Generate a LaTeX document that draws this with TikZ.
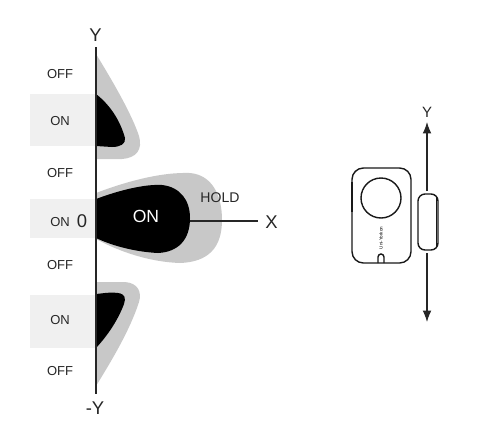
\documentclass[tikz,border=0pt]{standalone}
\usepackage{fontspec}
\setmainfont{Liberation Sans}
\usetikzlibrary{arrows.meta}
\definecolor{band}{HTML}{F0F0F0}
\definecolor{lobe}{HTML}{C8C8C8}
\tikzset{
  x=0.02cm,y=-0.02cm,
  lbl/.style={font=\fontsize{7.4}{9}\selectfont,text=black!85,inner sep=0pt},
  axl/.style={font=\fontsize{10.5}{12}\selectfont,text=black!85,inner sep=0pt},
  bandbox/.style={fill=band,draw=none},
  graylobe/.style={fill=lobe,draw=none},
  blacklobe/.style={fill=black,draw=none},
  ax/.style={draw=black!85,line width=0.8pt},
  dev/.style={draw=black!90,line width=0.8pt},
  arr/.style={draw=black!85,line width=0.6pt,-{Latex[length=6.5pt,width=5pt]}}
}
\begin{document}
\begin{tikzpicture}
\useasboundingbox (0,0) rectangle (483,420);
% bands
\fill[bandbox] (30,94) rectangle (95,146);
\fill[bandbox] (30,199) rectangle (95,238);
\fill[bandbox] (30,295) rectangle (95,348);
% top lobe
\path[graylobe] (96,54) .. controls (115,85) and (132,115) .. (139,136) .. controls (143,150) and (136,158) .. (122,159) -- (96,159) -- cycle;
\path[blacklobe] (96,94) .. controls (110,105) and (120,120) .. (125,138) .. controls (126,144) and (120,147) .. (112,147) -- (96,146) -- cycle;
% middle lobe
\path[graylobe] (96,193) .. controls (125,182) and (160,172) .. (190,173) .. controls (212,175) and (222,195) .. (222,220) .. controls (222,248) and (208,262) .. (180,263) .. controls (150,262) and (120,252) .. (96,239) -- cycle;
\path[blacklobe] (96,199) .. controls (120,190) and (145,184) .. (162,185) .. controls (180,187) and (190,200) .. (190,218) .. controls (190,240) and (178,252) .. (158,253) .. controls (138,252) and (115,247) .. (96,238) -- cycle;
% bottom lobe
\path[graylobe] (96,282) -- (125,282) .. controls (138,283) and (142,292) .. (139,302) .. controls (130,330) and (112,360) .. (96,386) -- cycle;
\path[blacklobe] (96,294) .. controls (105,293) and (112,292) .. (118,293) .. controls (125,294) and (126,298) .. (124,304) .. controls (118,320) and (108,335) .. (96,348) -- cycle;
% axes
\coordinate (ytop) at (96,47);
\coordinate (ybot) at (96,394);
\coordinate (xa) at (190,221);
\coordinate (xb) at (258,221);
\draw[ax] (ytop) -- (ybot);
\draw[ax] (xa) -- (xb);
% labels
\node[axl] (ly) at (95.5,35) {Y};
\node[axl] (lmy) at (95,408) {-Y};
\node[axl] (lx) at (271.5,222) {X};
\node[axl] (l0) at (82,221) {0};
\node[lbl] (o1) at (60,74) {OFF};
\node[lbl] (n1) at (60,121.5) {ON};
\node[lbl] (o2) at (60,173) {OFF};
\node[lbl] (n2) at (60,222) {ON};
\node[lbl] (o3) at (60,265) {OFF};
\node[lbl] (n3) at (60,320.5) {ON};
\node[lbl] (o4) at (60,371.5) {OFF};
\node[lbl,font=\fontsize{8}{10}\selectfont] (hold) at (220,197.5) {HOLD};
\node[lbl,text=white,font=\fontsize{10}{12}\selectfont] (onw) at (146,216.5) {ON};
% device
\node[axl,font=\fontsize{8.5}{10}\selectfont] (dy) at (427,112) {Y};
\coordinate (a1) at (427,191);
\coordinate (a2) at (427,122);
\coordinate (b1) at (427,253);
\coordinate (b2) at (427,322);
\draw[arr] (a1) -- (a2);
\draw[arr] (b1) -- (b2);
\draw[dev,rounded corners=6.5pt] (352,168) rectangle (411,263);
\draw[line width=1.4pt,draw=black!90] (352,182) -- (352,212);
\draw[dev] (381,198) circle[radius=20];
\draw[dev] (378,263) -- (378,257) arc[start angle=180,end angle=360,radius=3] -- (384,263);
\node[rotate=90,inner sep=0pt,font=\fontsize{2.6}{3}\selectfont] (brand) at (381,238) {Uni-Yorkon};
\draw[dev,rounded corners=4pt] (418,194) rectangle (438,250);
\draw[line width=0.5pt,draw=black!90] (436,196) -- (436,248);
\end{tikzpicture}
\end{document}
